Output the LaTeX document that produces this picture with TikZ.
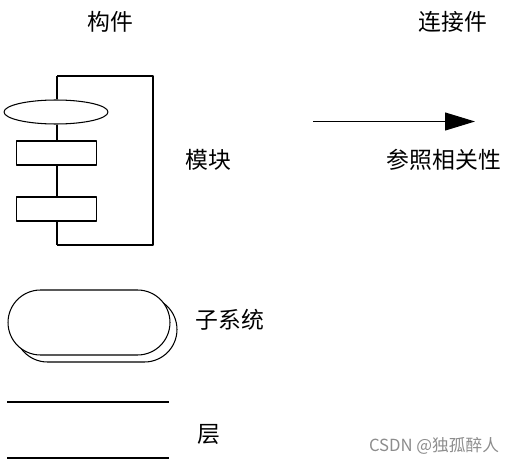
\documentclass[tikz,border=0pt]{standalone}
\usepackage{fontspec}
\newfontfamily\cjk{Noto Sans CJK SC}
\usetikzlibrary{
  arrows.meta,      % 实心三角箭头
  shapes.geometric, % 椭圆节点
  positioning       % 节点相对定位
}

\begin{document}
\begin{tikzpicture}[x=0.02cm, y=-0.02cm, line join=round]
  % 统一设置：轮廓、文字、箭头样式
  \tikzset{
    part outline/.style={draw=black, line width=0.6pt},
    label text/.style={font=\cjk\fontsize{13}{15}\selectfont, inner sep=0pt},
    module box/.style={part outline, rectangle, fill=white, minimum width=1.6cm, minimum height=0.48cm, inner sep=0pt},
    module ring/.style={part outline, ellipse, fill=white, minimum width=2.08cm, minimum height=0.48cm, inner sep=0pt},
    subsys shape/.style={part outline, rectangle, rounded corners=0.65cm, fill=white, minimum width=3.24cm, minimum height=1.3cm, inner sep=0pt},
    layer line/.style={draw=black, line width=1.1pt},
    ref arrow/.style={draw=black, line width=0.6pt, -{Triangle[length=0.6cm, width=0.36cm]}}
  }
  \useasboundingbox (0,0) rectangle (514,463);

  % =======================
  % 标题
  % =======================
  \node[label text] (partTitle) at (110, 22) {构件};
  \node[label text] (linkTitle) at (453, 22) {连接件};

  % =======================
  % 模块
  % =======================
  \coordinate (frameTop) at (57, 76);
  \coordinate (frameBot) at (57, 245);
  \draw[part outline] (frameTop) -- (153, 76) -- (153, 245) -- (frameBot);
  \node[module ring] (ring) at (56, 112) {};
  \node[module box] (boxA) at (56.5, 153) {};
  \node[module box] (boxB) at (56.5, 209) {};
  % 左侧竖线串起各部件
  \draw[part outline] (frameTop) -- (ring.north -| frameTop);
  \draw[part outline] (ring.south -| frameTop) -- (boxA.north -| frameTop);
  \draw[part outline] (boxA.south -| frameTop) -- (boxB.north -| frameTop);
  \draw[part outline] (boxB.south -| frameTop) -- (frameBot);
  \node[label text] (moduleLabel) at (208, 160) {模块};

  % =======================
  % 子系统（两层叠放）
  % =======================
  \node[subsys shape] (subBack) at (96, 329.5) {};
  \node[subsys shape] (subFront) at (89, 322.5) {};
  \node[label text] (subLabel) at (230, 320) {子系统};

  % =======================
  % 层
  % =======================
  \coordinate (layerA1) at (7, 402);
  \coordinate (layerA2) at (169, 402);
  \coordinate (layerB1) at (7, 458);
  \coordinate (layerB2) at (169, 458);
  \draw[layer line] (layerA1) -- (layerA2);
  \draw[layer line] (layerB1) -- (layerB2);
  \node[label text] (layerLabel) at (209, 434) {层};

  % =======================
  % 参照相关性
  % =======================
  \coordinate (refStart) at (313, 121.5);
  \coordinate (refEnd) at (475, 121.5);
  \draw[ref arrow] (refStart) -- (refEnd);
  \node[label text] (refLabel) at (444, 160) {参照相关性};

  % 水印
  \node[font=\cjk\fontsize{9.5}{11}\selectfont, text=black!45, inner sep=0pt] (mark) at (434, 446) {CSDN @独孤醉人};
\end{tikzpicture}
\end{document}
